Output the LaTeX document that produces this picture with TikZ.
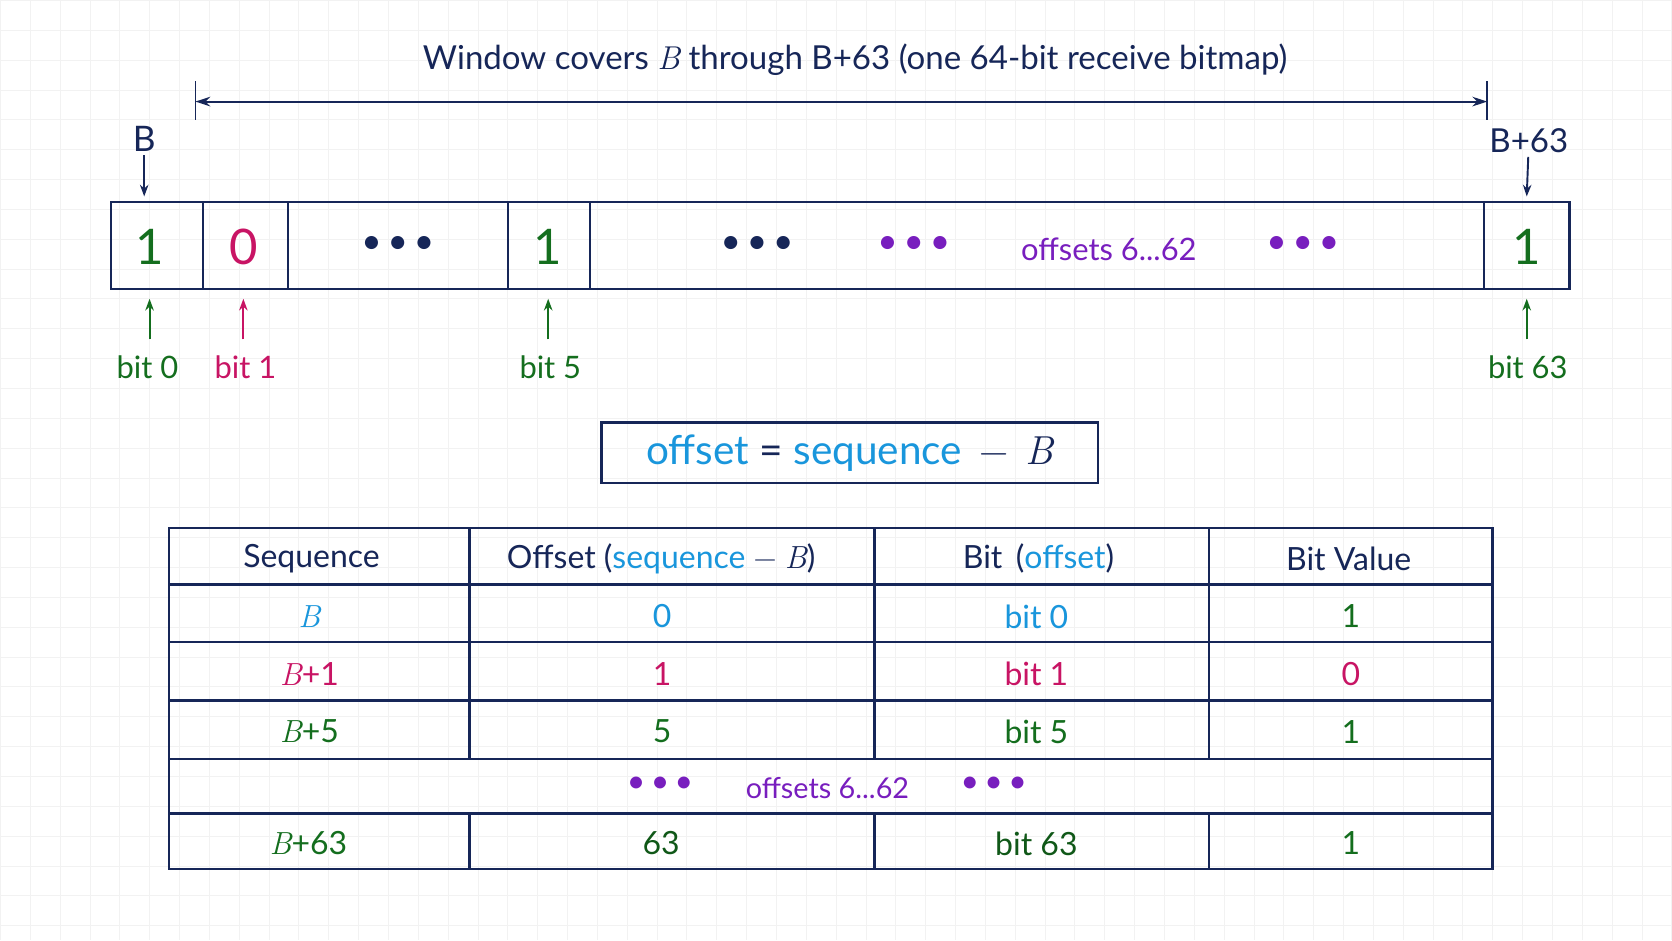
\documentclass[tikz,border=0pt]{standalone}
\usepackage{fontspec}
\setmainfont{Lato}
\newfontfamily\lmr{Latin Modern Roman}
\newcommand{\BB}{{\lmr\itshape B}}
\usetikzlibrary{arrows.meta}
\definecolor{navy}{RGB}{22,38,88}
\definecolor{gr}{RGB}{20,110,30}
\definecolor{mg}{RGB}{200,20,100}
\definecolor{bl}{RGB}{25,150,220}
\definecolor{pu}{RGB}{120,30,190}
\begin{document}
\begin{tikzpicture}[x=1pt,y=-1pt,
  ln/.style={navy,line width=2.2pt},
  ar/.style={navy,line width=1.8pt,-{Stealth[length=11pt,width=8pt]}},
  lbl/.style={font=\fontsize{29}{31}\selectfont},
  dig/.style={font=\fontsize{46}{48}\selectfont},
  td/.style={font=\fontsize{30}{32}\selectfont},
  dots/.style={font=\fontsize{33}{33}\selectfont}]
\fill[white] (0,0) rectangle (1568,882);
\foreach \i in {0,28,...,1568} \draw[black!5,line width=0.6pt] (\i,0) -- (\i,882);
\foreach \i in {0,28,...,882} \draw[black!5,line width=0.6pt] (0,\i) -- (1568,\i);
\useasboundingbox (0,0) rectangle (1568,882);
% title arrow
\node[navy,font=\fontsize{31}{33}\selectfont] (title) at (802,56) {Window covers \BB{} through B+63 (one 64-bit receive bitmap)};
\coordinate (wl) at (183,95); \coordinate (wr) at (1395,95);
\draw[ln,line width=1.6pt] (183,76) -- (183,112) (1395,76) -- (1395,112);
\draw[navy,line width=2pt,{Stealth[length=14pt,width=9pt]}-{Stealth[length=14pt,width=9pt]}] (wl) -- (wr);
% bitmap
\draw[ln] (104,189) rectangle (1472,271);
\foreach \x in {190,270,476,553,1392} \draw[ln] (\x,189) -- (\x,271);
\node[dig,gr] (c0) at (140,231) {1};
\node[dig,mg] (c1) at (228,231) {0};
\node[dots,navy] (d1) at (373,230) {\textbullet\,\textbullet\,\textbullet};
\node[dig,gr] (c5) at (514,231) {1};
\node[dots,navy] (d2) at (710,230) {\textbullet\,\textbullet\,\textbullet};
\node[dots,pu] (d3) at (857,230) {\textbullet\,\textbullet\,\textbullet};
\node[lbl,pu] (off) at (1040,234) {offsets 6...62};
\node[dots,pu] (d4) at (1222,230) {\textbullet\,\textbullet\,\textbullet};
\node[dig,gr] (c63) at (1432,231) {1};
% B labels
\node[navy,font=\fontsize{33}{35}\selectfont] (lB) at (135,130) {B};
\node[lbl,navy,font=\fontsize{31}{33}\selectfont] (lB63) at (1434,132) {B+63};
\coordinate (aB) at (135,184); \coordinate (aB63) at (1432,184);
\draw[ar] (lB) -- (aB);
\draw[ar] (lB63) -- (aB63);
% bit labels
\node[lbl,gr] (b0) at (138,344) {bit 0};
\node[lbl,mg] (b1) at (230,344) {bit 1};
\node[lbl,gr] (b5) at (516,344) {bit 5};
\node[lbl,gr] (b63) at (1433,344) {bit 63};
\draw[ar,gr] (140,318) -- (140,280);
\draw[ar,mg] (228,318) -- (228,280);
\draw[ar,gr] (514,318) -- (514,280);
\draw[ar,gr] (1432,318) -- (1432,280);
% formula
\draw[ln] (564,396) rectangle (1030,453);
\node[font=\fontsize{38}{40}\selectfont] (fm) at (797,425) {\textcolor{bl}{offset} \textcolor{navy}{= }\textcolor{bl}{sequence} \textcolor{navy}{\,{\lmr\char"2212}\, \BB}};
% table
\draw[ln] (158,495) rectangle (1400,815);
\foreach \y in {548,602,657,712,763} \draw[ln] (158,\y) -- (1400,\y);
\foreach \x in {440,820,1134} {\draw[ln] (\x,495) -- (\x,712); \draw[ln] (\x,763) -- (\x,815);}
\node[td,navy] at (292,524) {Sequence};
\node[td,navy] at (620,524) {Offset (\textcolor{bl}{sequence} {\lmr\char"2212} \BB)};
\node[td,navy] at (974,524) {Bit \,(\textcolor{bl}{offset})};
\node[td,navy] at (1265,524) {Bit Value};
\node[td,bl] at (290,578) {\BB}; \node[td,bl] at (621,578) {0}; \node[td,bl] at (972,578) {bit 0}; \node[td,gr] at (1267,578) {1};
\node[td,mg] at (290,632) {\BB+1}; \node[td,mg] at (621,632) {1}; \node[td,mg] at (972,632) {bit 1}; \node[td,mg] at (1267,632) {0};
\node[td,gr] at (290,686) {\BB+5}; \node[td,gr] at (621,686) {5}; \node[td,gr] at (972,686) {bit 5}; \node[td,gr] at (1267,686) {1};
\node[font=\fontsize{30}{30}\selectfont,pu] at (619,736) {\textbullet\,\textbullet\,\textbullet};
\node[pu,font=\fontsize{27}{29}\selectfont] at (776,739) {offsets 6...62};
\node[font=\fontsize{30}{30}\selectfont,pu] at (932,736) {\textbullet\,\textbullet\,\textbullet};
\node[td,gr] at (289,791) {\BB+63}; \node[td,gr!80!black] at (620,791) {63}; \node[td,gr!80!black] at (972,791) {bit 63}; \node[td,gr] at (1267,791) {1};
\end{tikzpicture}
\end{document}
